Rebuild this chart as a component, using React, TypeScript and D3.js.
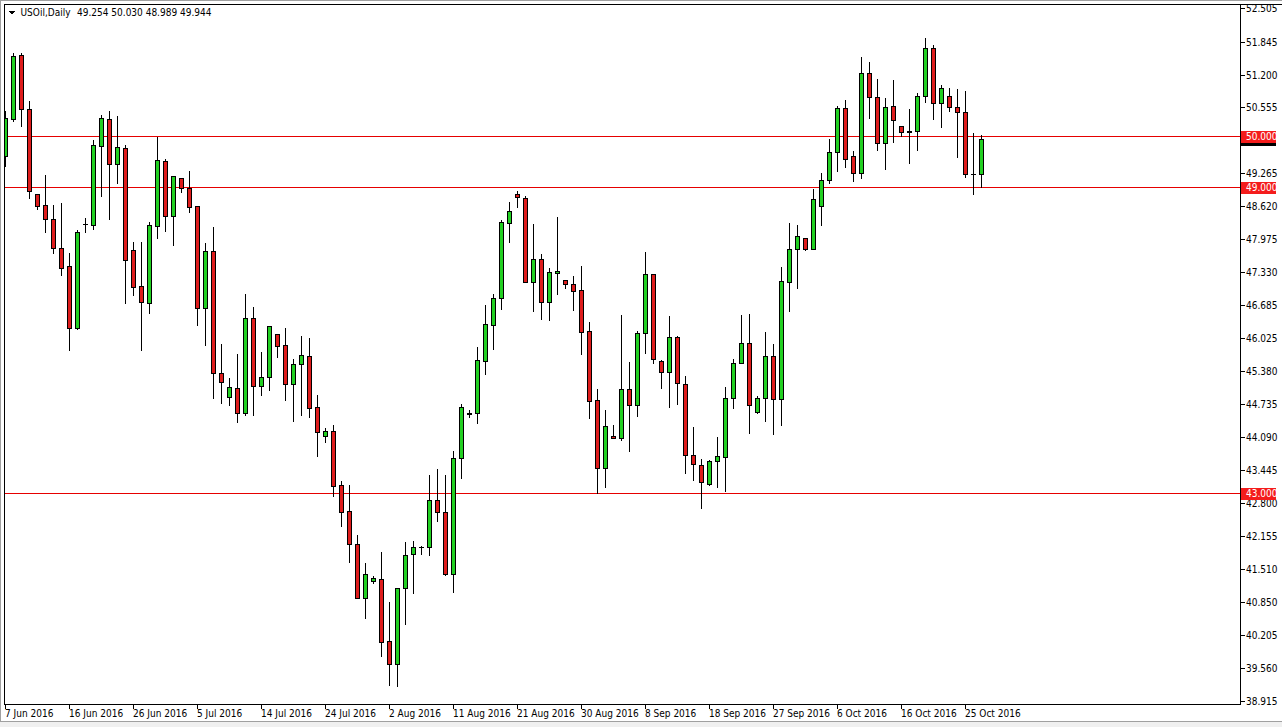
import React from 'react';
import * as d3 from 'd3';

// USOil daily bars, 7 Jun 2016 .. 26 Oct 2016 (MT4 six-day week, Sunday bars included)
const symbol = 'USOil,Daily';

const open = [
  49.61, 50.33, 51.58, 50.52, 48.86, 48.64, 48.36, 47.79, 47.44, 46.22,
  48.26, 48.24, 49.80, 50.32, 49.44, 49.75, 47.76, 47.05, 46.72, 48.23,
  49.50, 48.42, 49.17, 48.98, 48.62, 46.63, 47.73, 45.34, 44.87, 45.05,
  44.57, 46.43, 45.10, 45.26, 46.11, 45.89, 45.13, 45.52, 45.68, 44.68,
  44.11, 44.21, 43.15, 42.64, 41.99, 40.94, 41.26, 41.30, 40.09, 39.64,
  41.13, 41.79, 41.93, 41.93, 42.86, 42.62, 41.40, 43.68, 44.55, 44.56,
  45.58, 46.29, 46.81, 48.28, 48.85, 48.77, 47.14, 47.58, 46.73, 47.30,
  47.17, 47.09, 46.98, 46.17, 44.82, 43.49, 44.11, 44.07, 45.03, 44.71,
  46.13, 47.28, 45.58, 45.37, 46.05, 45.13, 43.73, 43.54, 43.17, 43.63,
  43.70, 44.85, 45.54, 45.93, 44.59, 44.86, 45.68, 44.83, 47.13, 47.77,
  47.99, 47.77, 48.62, 49.13, 49.68, 50.54, 49.60, 49.26, 51.24, 50.75,
  49.85, 50.58, 50.20, 50.085, 50.09, 50.78, 51.72, 50.64, 50.78, 50.56,
  50.46, 49.25, 49.254,
];

const high = [
  50.51, 51.64, 51.64, 50.70, 48.87, 49.25, 48.66, 48.70, 47.72, 48.17,
  48.40, 49.94, 50.43, 50.51, 50.41, 49.84, 47.94, 47.94, 48.33, 50.00,
  49.56, 49.22, 49.19, 49.33, 48.62, 47.91, 48.23, 45.94, 45.26, 45.73,
  46.91, 46.66, 45.78, 46.29, 46.11, 46.24, 45.64, 46.09, 46.05, 44.94,
  44.28, 44.34, 43.24, 43.17, 42.19, 41.64, 41.39, 41.86, 40.88, 41.16,
  42.05, 42.07, 41.98, 43.37, 43.48, 43.37, 43.84, 44.75, 44.64, 45.88,
  46.70, 46.91, 48.36, 48.72, 48.94, 48.84, 48.28, 47.71, 47.43, 48.43,
  47.18, 47.26, 47.47, 46.37, 45.05, 44.64, 44.34, 46.50, 45.58, 46.19,
  47.73, 47.28, 45.62, 46.49, 46.09, 45.31, 44.31, 43.68, 43.66, 44.12,
  45.09, 45.65, 46.51, 46.52, 44.92, 46.17, 45.93, 47.45, 48.30, 48.27,
  48.00, 48.98, 49.28, 49.95, 50.60, 50.72, 49.72, 51.56, 51.47, 51.13,
  50.75, 51.11, 50.22, 50.54, 50.86, 51.93, 51.80, 51.01, 50.95, 50.93,
  50.90, 50.07, 50.030,
];

const low = [
  49.41, 50.29, 50.19, 48.77, 48.56, 48.12, 47.70, 47.26, 45.80, 46.21,
  48.11, 48.17, 48.82, 48.37, 49.08, 46.72, 46.88, 45.80, 46.52, 48.00,
  48.14, 47.86, 48.90, 48.51, 46.29, 45.90, 44.85, 44.75, 44.71, 44.39,
  44.52, 44.52, 44.92, 45.02, 45.67, 44.82, 44.41, 44.52, 44.49, 43.71,
  44.00, 42.94, 42.34, 41.65, 40.93, 40.54, 41.23, 39.79, 39.23, 39.20,
  40.42, 41.03, 41.79, 41.77, 42.45, 41.39, 41.06, 43.28, 44.48, 44.36,
  45.32, 45.81, 46.60, 47.91, 48.61, 47.14, 46.56, 46.41, 46.39, 46.90,
  47.02, 46.58, 45.72, 44.47, 42.99, 43.12, 44.07, 44.03, 43.82, 44.51,
  45.73, 45.54, 45.05, 44.69, 44.74, 43.38, 43.25, 42.70, 43.15, 43.12,
  43.04, 44.67, 45.54, 44.18, 44.56, 44.41, 44.15, 44.33, 46.57, 47.02,
  47.75, 47.77, 48.24, 49.08, 49.30, 49.38, 49.12, 49.17, 50.34, 49.73,
  49.34, 49.87, 50.00, 49.47, 49.73, 50.67, 50.32, 50.18, 50.49, 49.58,
  49.20, 48.85, 48.989,
];

const close = [
  50.34, 51.56, 50.52, 48.92, 48.63, 48.36, 47.79, 47.41, 46.22, 48.11,
  48.27, 49.81, 50.34, 49.44, 49.77, 47.56, 47.03, 46.73, 48.24, 49.52,
  48.42, 49.22, 48.97, 48.61, 46.63, 47.73, 45.34, 45.17, 45.07, 44.57,
  46.42, 45.10, 45.26, 46.27, 45.88, 45.13, 45.52, 45.70, 44.67, 44.19,
  44.21, 43.14, 42.63, 41.99, 40.94, 41.40, 41.33, 40.08, 39.65, 41.13,
  41.77, 41.93, 41.94, 42.86, 42.62, 41.40, 43.68, 44.68, 44.56, 45.60,
  46.30, 46.81, 48.30, 48.52, 48.79, 47.14, 47.58, 46.73, 47.32, 47.35,
  47.09, 46.96, 46.16, 44.80, 43.49, 44.31, 44.07, 45.03, 44.71, 46.13,
  47.28, 45.63, 45.37, 46.05, 45.15, 43.73, 43.56, 43.20, 43.63, 43.72,
  44.85, 45.54, 45.93, 44.72, 44.86, 45.68, 44.83, 47.15, 47.77, 48.03,
  47.77, 48.75, 49.13, 49.68, 50.54, 49.54, 49.26, 51.24, 50.75, 49.85,
  50.56, 50.31, 50.07, 50.08, 50.78, 51.72, 50.64, 50.93, 50.56, 50.46,
  49.25, 49.24, 49.944,
];

// 49.910 sits under the level / bid labels, so only its tick mark shows
const priceTicks = [
  52.505, 51.845, 51.2, 50.555, 49.91, 49.265, 48.62, 47.975, 47.33, 46.685,
  46.025, 45.38, 44.735, 44.09, 43.445, 42.8, 42.155, 41.51, 40.85, 40.205,
  39.56, 38.915,
];
const hiddenTicks = [49.91];

const levels = [50, 49, 43];

const dateTicks = [
  '7 Jun 2016', '16 Jun 2016', '26 Jun 2016', '5 Jul 2016', '14 Jul 2016',
  '24 Jul 2016', '2 Aug 2016', '11 Aug 2016', '21 Aug 2016', '30 Aug 2016',
  '8 Sep 2016', '18 Sep 2016', '27 Sep 2016', '6 Oct 2016', '16 Oct 2016',
  '25 Oct 2016',
];

const W = 1282, H = 727;
const green = '#22d022';
const red = '#de1c1c';
const levelColor = '#e60000';
const font = "'DejaVu Sans Condensed', 'Liberation Sans', sans-serif";

// MT4 daily bars: every day except Saturday
function tradingDays(start: Date, n: number) {
  const fmt = d3.timeFormat('%-d %b %Y');
  const out: string[] = [];
  let d = start;
  while (out.length < n) {
    if (d.getDay() !== 6) out.push(fmt(d));
    d = d3.timeDay.offset(d, 1);
  }
  return out;
}

const dates = tradingDays(new Date(2016, 5, 7), open.length);

export default function App() {
  const x = d3.scaleBand<string>()
    .domain(dates)
    .range([1.5, 1.5 + 8 * dates.length])
    .padding(0);
  const y = d3.scaleLinear().domain([38.915, 52.505]).range([701, 8]);

  const cx = (d: string) => Math.floor((x(d) || 0) + x.bandwidth() / 2) + 0.5;
  const py = (v: number) => Math.round(y(v)) + 0.5;

  const last = open.length - 1;
  const ohlc = [open[last], high[last], low[last], close[last]];

  return (
    <svg
      width={W}
      height={H}
      style={{ position: 'absolute', left: 0, top: 0, display: 'block', background: '#fff' }}
      fontFamily={font}
      shapeRendering="crispEdges"
    >
      <defs>
        <clipPath id="plot">
          <rect x={5} y={5} width={1235} height={699} />
        </clipPath>
      </defs>

      <rect x={0} y={0} width={W} height={H} fill="#fff" />
      <rect x={0} y={722} width={W} height={5} fill="#f0f0f0" />
      <line x1={0} x2={W} y1={721.5} y2={721.5} stroke="#a0a0a0" />
      <line x1={0} x2={W} y1={0.5} y2={0.5} stroke="#a0a0a0" />
      <line x1={0.5} x2={0.5} y1={0} y2={722} stroke="#a0a0a0" />

      {/* level lines, drawn as 1px filled strips */}
      {levels.map(l => (
        <rect key={l} x={4} width={1236} y={py(l) - 0.5} height={1} fill={levelColor} />
      ))}

      {/* candles */}
      <g clipPath="url(#plot)">
        {dates.map((d, i) => {
          const o = open[i], c = close[i];
          const xc = cx(d);
          const yTop = py(Math.max(o, c));
          const yBot = py(Math.min(o, c));
          return (
            <g key={d}>
              <line x1={xc} x2={xc} y1={py(high[i])} y2={py(low[i])} stroke="#000" />
              {yBot - yTop < 1 ? (
                <line x1={xc - 2.5} x2={xc + 2.5} y1={yTop} y2={yTop} stroke="#000" />
              ) : (
                <rect
                  x={xc - 2}
                  y={yTop}
                  width={4}
                  height={yBot - yTop}
                  fill={c >= o ? green : red}
                  stroke="#000"
                />
              )}
            </g>
          );
        })}
      </g>

      {/* frame */}
      <line x1={4} x2={W} y1={4.5} y2={4.5} stroke="#000" />
      <line x1={4.5} x2={4.5} y1={4} y2={705} stroke="#000" />
      <line x1={4} x2={1241} y1={704.5} y2={704.5} stroke="#000" />
      <line x1={1240.5} x2={1240.5} y1={4} y2={705} stroke="#000" />

      {/* price axis */}
      <g fontSize={10} fill="#000">
        {priceTicks.map(v => (
          <g key={v}>
            <line x1={1241} x2={1245} y1={py(v)} y2={py(v)} stroke="#000" />
            {hiddenTicks.includes(v) ? null : (
              <text x={1246} y={py(v)} dy="0.35em">{v.toFixed(3)}</text>
            )}
          </g>
        ))}
      </g>

      {/* bid marker (covered by the 50.000 label) and level labels */}
      <g fontSize={10}>
        <rect x={1241} y={py(close[last]) - 6} width={35} height={12} fill="#000" />
        {levels.map(l => (
          <g key={l}>
            <rect x={1241} y={py(l) - 6} width={35} height={12} fill="#f41c1c" />
            <text x={1246} y={py(l)} dy="0.35em" fill="#fff">{l.toFixed(3)}</text>
          </g>
        ))}
      </g>

      {/* time axis */}
      <g fontSize={10} fill="#000">
        {dateTicks.map(t => (
          <g key={t}>
            <line x1={cx(t)} x2={cx(t)} y1={704} y2={709} stroke="#000" />
            <text x={cx(t) - 0.5} y={717}>{t}</text>
          </g>
        ))}
      </g>

      {/* header */}
      <path d="M8,11 L15,11 L11.5,14.5 Z" fill="#000" />
      <text x={20.5} y={16} fontSize={10} fill="#000">{symbol}</text>
      <text x={77} y={16} fontSize={10} fill="#000" xmlSpace="preserve">
        {ohlc.map(v => v.toFixed(3)).join(' ')}
      </text>
    </svg>
  );
}
